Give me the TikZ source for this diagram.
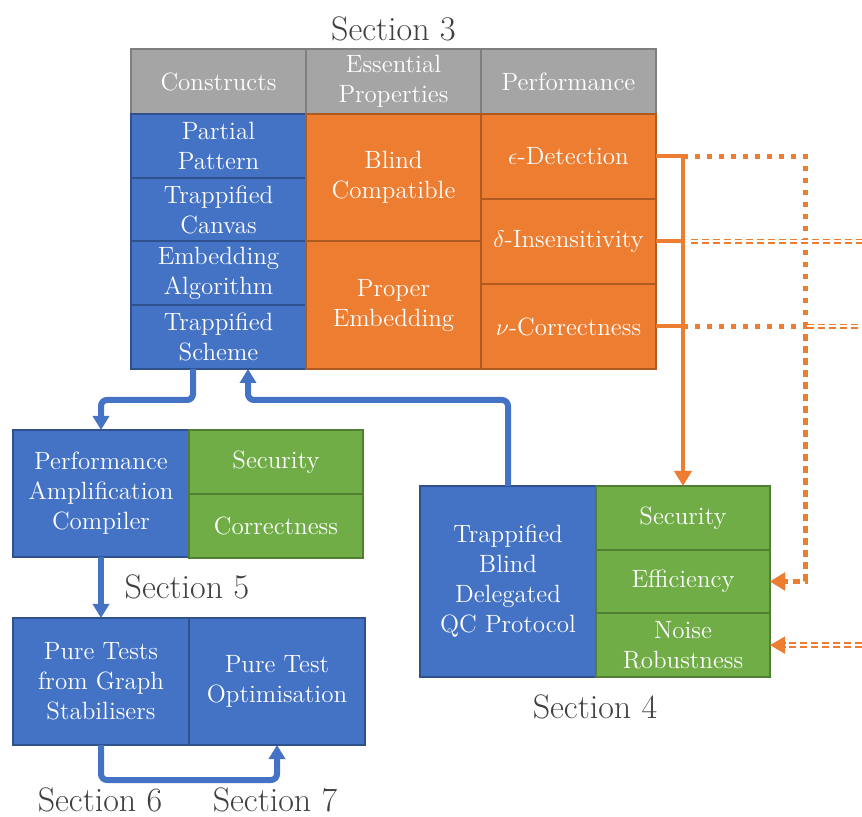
\documentclass[tikz,border=0pt]{standalone}
\usepackage{xcolor}
\usepackage{tikz}
\usetikzlibrary{shapes,arrows,arrows.meta,positioning}
\usepackage{amsmath,amssymb}

\definecolor{cblue}{HTML}{4472C4}
\definecolor{cblued}{HTML}{2F528F}
\definecolor{corange}{HTML}{ED7D31}
\definecolor{coranged}{HTML}{AE5A21}
\definecolor{cgreen}{HTML}{70AD47}
\definecolor{cgreend}{HTML}{507E32}
\definecolor{cgray}{HTML}{A5A5A5}
\definecolor{cgrayd}{HTML}{7F7F7F}

\begin{document}
\begin{tikzpicture}[x=0.5pt, y=-0.5pt, >={Triangle[length=7pt,width=8pt]},
    font=\fontsize{12.5}{15}\selectfont]
    \tikzstyle{cell} = [rectangle, draw, line width=1pt, inner sep=1pt, outer sep=0pt,
        text=white, align=center, minimum width=87.5pt]
    \tikzstyle{head} = [cell, fill=cgray, draw=cgrayd, minimum height=32.5pt]
    \tikzstyle{construct} = [cell, fill=cblue, draw=cblued, minimum height=31.875pt]
    \tikzstyle{property} = [cell, fill=corange, draw=coranged, minimum height=63.75pt]
    \tikzstyle{perf} = [cell, fill=corange, draw=coranged, minimum height=42.5pt]
    \tikzstyle{bigblue} = [cell, fill=cblue, draw=cblued, minimum width=88pt, minimum height=63.5pt]
    \tikzstyle{goal} = [cell, fill=cgreen, draw=cgreend, minimum width=87pt, minimum height=32pt]
    \tikzstyle{section} = [font=\fontsize{17}{20}\selectfont, text=black!75, inner sep=1pt]
    \tikzstyle{bline} = [draw, cblue, line width=3pt, rounded corners=3pt, ->]
    \tikzstyle{oline} = [draw, corange, line width=2pt]
    \tikzstyle{otip} = [-{Triangle[length=7.5pt,width=8.5pt]}]
    \tikzstyle{dotline} = [draw, corange, line width=2.5pt, dash pattern=on 2.5pt off 3.5pt]
    \tikzstyle{dblline} = [draw, corange, line width=0.9pt, double=white, double distance=1pt,
        dash pattern=on 3.5pt off 2pt]

    \useasboundingbox (0,0) rectangle (862,817);

    \node [head] (constructs) at (218.5,81.5) {Constructs};
    \node [head, right=0pt of constructs] (essential) {Essential\\Properties};
    \node [head, right=0pt of essential] (performance) {Performance};
    \node [section, above=3pt of essential] (sec3) {Section $3$};

    \node [construct, below=0pt of constructs] (partial) {Partial\\Pattern};
    \node [construct, below=0pt of partial] (canvas) {Trappified\\Canvas};
    \node [construct, below=0pt of canvas] (embedding) {Embedding\\Algorithm};
    \node [construct, below=0pt of embedding] (scheme) {Trappified\\Scheme};
    \node [property, below=0pt of essential] (blind) {Blind\\Compatible};
    \node [property, below=0pt of blind] (proper) {Proper\\Embedding};
    \node [perf, below=0pt of performance] (epsilon) {$\epsilon$-Detection};
    \node [perf, below=0pt of epsilon] (delta) {$\delta$-Insensitivity};
    \node [perf, below=0pt of delta] (nu) {$\nu$-Correctness};

    \node [bigblue] (compiler) at (101,493.5) {Performance\\Amplification\\Compiler};
    \node [goal, anchor=north west] (security) at (compiler.north east) {Security};
    \node [goal, below=0pt of security] (correctness) {Correctness};
    \node [section] (sec5) at (187,587) {Section $5$};

    \node [bigblue] (puretests) at (101,681.5) {Pure Tests\\from Graph\\Stabilisers};
    \node [bigblue, right=0pt of puretests] (optimisation) {Pure Test\\Optimisation};
    \node [section] (sec6) at (100,800) {Section 6};
    \node [section] (sec7) at (275,800) {Section 7};

    \node [bigblue, minimum height=95.5pt] (protocol) at (508,581.5) {Trappified\\Blind\\Delegated\\QC Protocol};
    \node [goal, minimum height=31.83pt, anchor=north west] (psecurity) at (protocol.north east) {Security};
    \node [goal, minimum height=31.83pt, below=0pt of psecurity] (efficiency) {Efficiency};
    \node [goal, minimum height=31.83pt, below=0pt of efficiency] (noise) {Noise\\Robustness};
    \node [section] (sec4) at (595,707) {Section 4};

    \path [bline] ([xshift=-12.75pt]scheme.south) -- ++(0,-15.5pt) -| (compiler.north);
    \path [bline] (protocol.north) -- ++(0,43pt) -| ([xshift=14.75pt]scheme.south);
    \path [bline] (compiler.south) -- (puretests.north);
    \path [bline] (puretests.south) -- ++(0,-17.5pt) -| (optimisation.south);

    \coordinate (epsbus) at (epsilon.east -| psecurity.north);
    \coordinate (deltabus) at (delta.east -| psecurity.north);
    \coordinate (nubus) at (nu.east -| psecurity.north);
    \coordinate (offR) at (862,0);
    \path [oline, otip] (epsilon.east) -| (psecurity.north);
    \path [oline] (delta.east) -- (deltabus);
    \path [oline] (nu.east) -- (nubus);
    \path [dotline, otip] (epsbus) -- ++(61pt,0) |- (efficiency.east);
    \path [dotline, otip] (nubus) -- ++(61pt,0) |- (efficiency.east);
    \path [dblline] ([xshift=4pt]deltabus) -- (delta.east -| offR);
    \path [dblline] ([xshift=62pt]nubus) -- (nu.east -| offR);
    \path [dblline, otip] (noise.east -| offR) -- (noise.east);
\end{tikzpicture}
\end{document}
